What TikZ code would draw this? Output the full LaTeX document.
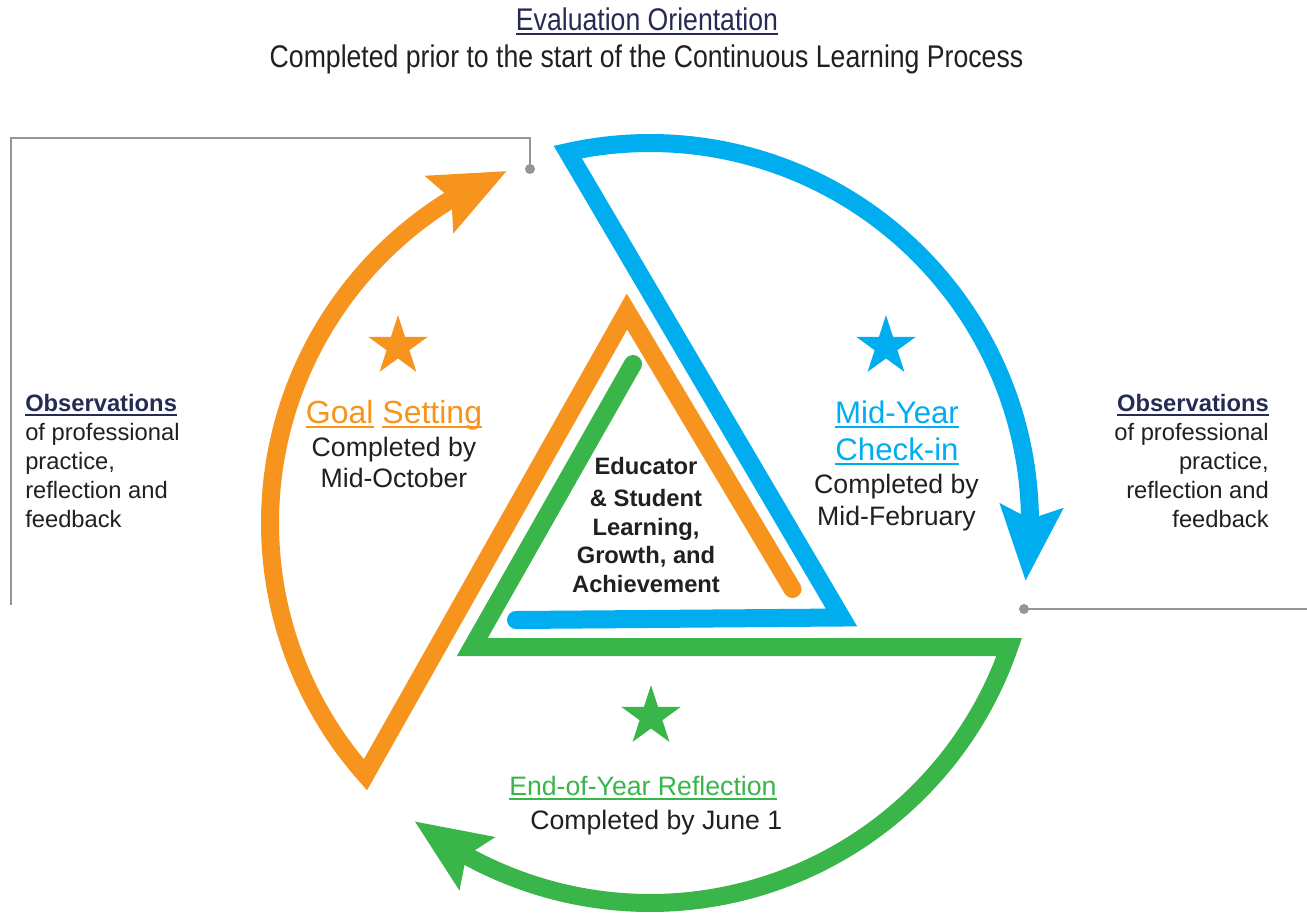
\documentclass[tikz,border=0pt]{standalone}
\usepackage{fontspec}
\usepackage{graphicx}
\setmainfont{Liberation Sans}
\usetikzlibrary{shapes.geometric}
\definecolor{cOr}{HTML}{F7941D}
\definecolor{cBl}{HTML}{00AEEF}
\definecolor{cGr}{HTML}{39B54A}
\definecolor{cNv}{HTML}{262B55}
\definecolor{cTx}{HTML}{231F20}
\definecolor{cGy}{HTML}{939598}
\newcommand\myfs[1]{\fontsize{#1}{#1}\selectfont}
\newcommand\myul[1]{\setbox0\hbox{#1}\rlap{\rule[-0.17em]{\wd0}{0.065em}}\box0\relax}
\newcommand\arrhead[2]{\fill[#1] ([shift={(#2:380)}]C) -- ([shift={(#2-10.8:414)}]C) -- ([shift={(#2-9.3:380)}]C) -- ([shift={(#2-12:350)}]C) -- cycle;}
\begin{document}
\begin{tikzpicture}[x=0.75pt,y=-0.75pt,
  band/.style={line width=13.5pt, line join=miter, miter limit=10},
  gline/.style={draw=cGy, line width=1.5pt},
  starshape/.style={star, star points=5, star point ratio=2.618, minimum size=47pt, inner sep=0pt, draw=none},
  tx/.style={inner sep=0pt, text=cTx, font=\myfs{20}}]
\useasboundingbox (0,0) rectangle (1307,915);
\fill[white] (0,0) rectangle (1307,915);
\coordinate (C) at (650,523);

% orange band
\coordinate (oE) at (792.5,589);
\coordinate (oA) at (627,311.5);
\coordinate (oV) at ([shift={(138.5:380)}]C);
\draw[band, cOr] (oE) -- (oA) -- (oV) arc[start angle=138.5, end angle=239.3, radius=380];
\fill[cOr] (oE) circle[radius=6.75pt];
\arrhead{cOr}{247.8}

% blue band
\coordinate (bE) at (516,620);
\coordinate (bR) at (841.5,617.5);
\coordinate (bV) at ([shift={(257.5:380)}]C);
\draw[band, cBl] (bE) -- (bR) -- (bV) arc[start angle=257.5, end angle=360.2, radius=380];
\fill[cBl] (bE) circle[radius=6.75pt];
\arrhead{cBl}{368.7}

% green band
\coordinate (gE) at (633,364);
\coordinate (gL) at (472.3,647);
\coordinate (gV) at ([shift={(19.05:380)}]C);
\draw[band, cGr] (gE) -- (gL) -- (gV) arc[start angle=19.05, end angle=119.7, radius=380];
\fill[cGr] (gE) circle[radius=6.75pt];
\arrhead{cGr}{128.2}

% gray guide lines
\coordinate (gl1) at (11,605);
\coordinate (gl2) at (11,138);
\coordinate (gl3) at (530,138);
\coordinate (gd1) at (530,169);
\draw[gline] (gl1) -- (gl2) -- (gl3) -- (gd1);
\fill[cGy] (gd1) circle[radius=3.75pt];
\coordinate (gd2) at (1024,609);
\coordinate (gr1) at (1307,609);
\draw[gline] (gd2) -- (gr1);
\fill[cGy] (gd2) circle[radius=3.75pt];

% stars
\node[starshape, fill=cOr] (sO) at (398,346.5) {};
\node[starshape, fill=cBl] (sB) at (886,346.5) {};
\node[starshape, fill=cGr] (sG) at (651,716.5) {};

% top texts
\node[tx, font=\myfs{23.5}, text=cNv, anchor=base] (eval) at (647,30) {\scalebox{0.85}[1]{\myul{Evaluation Orientation}}};
\node[tx, font=\myfs{23.5}, anchor=base] (prior) at (646.5,67) {\scalebox{0.85}[1]{Completed prior to the start of the Continuous Learning Process}};

% goal setting
\node[tx, font=\myfs{24}, text=cOr, anchor=base] (goal) at (394,423) {\myul{Goal} \myul{Setting}};
\node[tx, anchor=base] (goal1) at (394,456) {Completed by};
\node[tx, anchor=base] (goal2) at (394,487) {Mid-October};

% mid-year
\node[tx, font=\myfs{23.4}, text=cBl, anchor=base] (mid1) at (897,423) {\myul{Mid-Year}};
\node[tx, font=\myfs{23.4}, text=cBl, anchor=base] (mid2) at (897,460) {\myul{Check-in}};
\node[tx, anchor=base] (mid3) at (896.5,493) {Completed by};
\node[tx, anchor=base] (mid4) at (896.5,525) {Mid-February};

% centre
\node[tx, font=\bfseries\myfs{17.8}, anchor=base] (c1) at (646,474) {Educator};
\node[tx, font=\bfseries\myfs{17.8}, anchor=base] (c2) at (646,506) {\& Student};
\node[tx, font=\bfseries\myfs{17.8}, anchor=base] (c3) at (646,535) {Learning,};
\node[tx, font=\bfseries\myfs{17.8}, anchor=base] (c4) at (646,563) {Growth, and};
\node[tx, font=\bfseries\myfs{17.8}, anchor=base] (c5) at (646,592) {Achievement};

% end of year
\node[tx, text=cGr, anchor=base west] (eoy1) at (509,795) {\myul{End-of-Year Reflection}};
\node[tx, anchor=base west] (eoy2) at (530,829) {Completed by June 1};

% observations left
\node[tx, font=\bfseries\myfs{17.8}, text=cNv, anchor=base west] (ol0) at (25,411.5) {\myul{Observations}};
\node[tx, font=\myfs{17.8}, anchor=base west] (ol1) at (25,440) {of professional};
\node[tx, font=\myfs{17.8}, anchor=base west] (ol2) at (25,469) {practice,};
\node[tx, font=\myfs{17.8}, anchor=base west] (ol3) at (25,498.5) {reflection and};
\node[tx, font=\myfs{17.8}, anchor=base west] (ol4) at (25,527) {feedback};

% observations right
\node[tx, font=\bfseries\myfs{17.8}, text=cNv, anchor=base east] (or0) at (1269,411.5) {\myul{Observations}};
\node[tx, font=\myfs{17.8}, anchor=base east] (or1) at (1269,440) {of professional};
\node[tx, font=\myfs{17.8}, anchor=base east] (or2) at (1269,469) {practice,};
\node[tx, font=\myfs{17.8}, anchor=base east] (or3) at (1269,498.5) {reflection and};
\node[tx, font=\myfs{17.8}, anchor=base east] (or4) at (1269,527) {feedback};
\end{tikzpicture}
\end{document}
